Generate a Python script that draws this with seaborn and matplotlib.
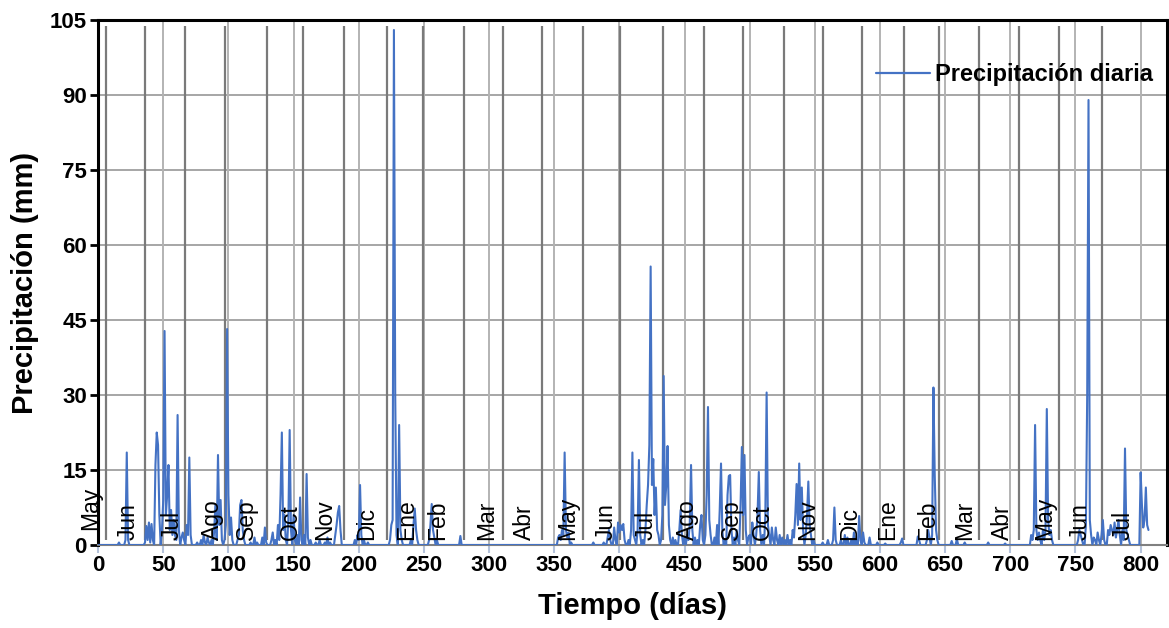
import numpy as np
import pandas as pd
import matplotlib
matplotlib.use("Agg")
import matplotlib.pyplot as plt
import seaborn as sns

# Daily rainfall record: rainy days (day index) and their depth in mm; all other days are dry
dias_lluvia = [
    16, 21, 22, 23, 36, 37, 38, 39, 40, 41, 42, 44, 45, 46, 47, 49, 50, 51, 52, 53, 54, 55, 56, 57, 58, 59,
    60, 61, 62, 64, 65, 66, 68, 69, 70, 71, 76, 79, 81, 82, 84, 85, 87, 89, 90, 91, 92, 93, 94, 95,
    97, 98, 99, 100, 101, 102, 103, 107, 108, 109, 110, 111, 112, 117, 120, 122, 126, 128, 129,
    133, 134, 136, 138, 139, 140, 141, 142, 143, 144, 146, 147, 148, 150, 151, 153, 155, 156, 158, 160, 161, 163,
    167, 170, 174, 176, 178, 182, 183, 184, 185, 186, 197, 199, 200, 201, 202, 204, 207,
    224, 225, 226, 227, 228, 229, 231, 232, 233, 240, 242, 243, 244, 245, 254, 255, 256, 257, 258, 260, 278,
    353, 354, 355, 356, 357, 358, 359, 360, 361, 363, 380, 388, 391, 392, 393, 396, 397, 399, 400, 401, 402, 403, 404,
    407, 409, 410, 411, 412, 414, 415, 416, 418, 420, 421, 422, 423, 424, 425, 426, 427, 428, 429, 430,
    432, 433, 434, 435, 436, 437, 438, 439, 441, 443, 446, 447, 448, 450, 452, 453, 454, 455, 456, 458,
    460, 462, 463, 464, 466, 467, 468, 469, 470, 473, 475, 477, 478, 479, 481, 483, 484, 485, 486, 488, 490, 491,
    493, 494, 495, 496, 497, 499, 500, 502, 503, 505, 506, 507, 508, 510, 512, 513, 514, 515,
    517, 518, 520, 521, 523, 525, 527, 529, 531, 533, 534, 535, 536, 537, 538, 539, 540, 541, 543, 544, 545, 546, 547, 549,
    556, 560, 564, 565, 566, 570, 573, 575, 578, 580, 582, 584, 585, 587, 588, 592, 598, 604, 616, 617,
    629, 630, 636, 637, 638, 640, 641, 642, 643, 644, 655, 659, 665, 683, 696,
    716, 717, 718, 719, 720, 721, 722, 723, 725, 726, 727, 728, 729, 730, 731, 732,
    752, 753, 754, 755, 758, 759, 760, 761, 762, 764, 765, 767, 768, 770, 771, 772,
    775, 776, 777, 778, 779, 780, 781, 782, 783, 784, 786, 787, 788, 789, 790, 791,
    800, 801, 802, 803, 804, 805, 806,
]
mm_lluvia = [
    0.5, 1, 18.5, 1, 0.5, 3.8, 1, 4.5, 0.5, 4.2, 1, 16, 22.5, 20, 6, 3, 9, 42.8, 6, 10, 16, 3, 7, 2, 5, 2,
    1, 26, 3, 1.5, 2.5, 1, 4, 2, 17.5, 2, 0.5, 1, 2, 0.5, 1.5, 0.5, 1, 2.5, 8, 1, 18, 4, 9, 1,
    1, 4, 43.2, 10, 2, 5.5, 1, 1, 2, 8, 9, 3, 1, 0.5, 1.5, 0.5, 1.5, 3.5, 0.5,
    1, 2.5, 1, 4, 1, 10, 22.5, 3, 6, 1, 5, 23, 3, 6, 1, 2, 9.5, 1, 2, 14.2, 1.5, 1,
    0.5, 1, 0.5, 1.5, 0.5, 2, 4, 6.5, 7.8, 3, 1, 2, 1, 12, 2, 1, 0.5,
    1, 4, 5, 103, 30, 2, 24, 3, 1, 1, 4, 7.3, 3, 1, 1, 4, 8.2, 3, 1.5, 1, 1.8,
    1.5, 2, 1, 3, 2, 18.5, 3, 1.5, 2.5, 0.5, 0.5, 0.5, 1.5, 3, 1, 3.5, 1, 4.5, 2.5, 4, 3, 4.2, 1,
    1, 3, 18.5, 2, 1, 3, 17, 2, 1, 3, 8, 12, 20, 55.7, 12, 17.2, 6, 11.5, 3, 2,
    1, 6, 33.8, 8, 12, 19.8, 4, 1, 1.5, 1, 3, 7, 2, 1.5, 2, 1, 4, 16, 3, 1.5,
    1, 4, 6, 1, 2, 10, 27.6, 5, 2, 1.5, 4, 7, 16.3, 3, 1, 10, 13.8, 14, 3, 1.5, 3, 1,
    8, 19.6, 6, 18, 3, 1.5, 2, 4.5, 2, 2, 6, 14.6, 3, 2, 6, 30.5, 4, 2,
    3.5, 1, 3.5, 1, 2, 1.5, 1, 2, 1, 3, 1.5, 6, 12.2, 4, 16.3, 5, 11.5, 3, 2, 6, 12.7, 4, 2, 1,
    0.5, 1, 1, 7.5, 1, 1, 2, 1.5, 1, 2.5, 1, 5.8, 1, 2.5, 0.5, 1.5, 0.5, 0.3, 0.5, 1.3,
    1.7, 1, 1, 3, 1.5, 2, 31.5, 14, 3, 1, 0.8, 1.2, 0.5, 0.5, 0.3,
    2, 1, 3, 24, 3, 1, 2.5, 1, 3, 1, 3, 27.2, 5, 2, 3, 1,
    1, 3, 2, 1, 4, 30, 89, 5, 2, 1.5, 1, 2.5, 1, 2, 5, 1,
    3, 2, 4, 3, 2, 4.5, 1.5, 3, 5, 2, 3, 1, 19.3, 3, 2, 1,
    14.5, 8, 3.5, 5, 11.5, 4, 3,
]
ultimo_dia = 806

# Month boundaries (days) and month names placed inside each month
limites_mes = [6, 36, 67, 97, 129.5, 157.5, 189, 222, 249, 281, 311, 341, 372, 400.5,
               433.5, 465, 495, 526, 556.5, 586, 618.5, 645.5, 676, 706.5, 737.5, 770]
pos_etiqueta = [-5.4, 22.9, 56.7, 88.1, 114.2, 147.2, 174.0, 206.3, 236.7, 260.7, 298.1, 327.4, 360.4,
                390.1, 420.8, 452.5, 486.0, 510.0, 544.5, 576.8, 605.9, 636.8, 665.0, 694.3, 726.3, 753.2, 786.4]
meses = ["May", "Jun", "Jul", "Ago", "Sep", "Oct", "Nov", "Dic", "Ene", "Feb", "Mar", "Abr", "May",
         "Jun", "Jul", "Ago", "Sep", "Oct", "Nov", "Dic", "Ene", "Feb", "Mar", "Abr", "May", "Jun", "Jul"]

y_ticks = [0, 15, 30, 45, 60, 75, 90, 105]
x_ticks = list(range(0, 801, 50))

# Build the full daily series
dias = np.arange(0, ultimo_dia + 1)
precip = np.zeros(len(dias))
precip[np.array(dias_lluvia)] = mm_lluvia
df = pd.DataFrame({"Tiempo (días)": dias, "Precipitación diaria": precip})

sns.set_theme(style="white")
plt.rcParams["font.family"] = ["Liberation Sans", "DejaVu Sans"]
plt.rcParams["text.color"] = "black"
plt.rcParams["axes.labelcolor"] = "black"
plt.rcParams["xtick.color"] = "black"
plt.rcParams["ytick.color"] = "black"

fig = plt.figure(figsize=(11.69, 6.28), dpi=100)
ax = fig.add_axes([98.1 / 1169, 83 / 628, 1068.6 / 1169, 525 / 628])

# Light grid
for yv in y_ticks[1:]:
    ax.axhline(yv, color="#a6a6a6", lw=1.4, zorder=0)
for xv in x_ticks[1:]:
    ax.axvline(xv, color="#b3b3b3", lw=1.4, zorder=0)

# Month separators
ax.vlines(limites_mes, 1, 103.8, colors="#7a7a7a", lw=1.6, zorder=1)

sns.lineplot(data=df, x="Tiempo (días)", y="Precipitación diaria", ax=ax, color="#4472C4",
             lw=1.5, estimator=None, label="Precipitación diaria", zorder=3)

for xp, nombre in zip(pos_etiqueta, meses):
    yb = 3 if xp < 0 else 1
    ax.text(xp, yb, nombre, rotation=90, ha="center", va="bottom", fontsize=16.5,
            color="black", clip_on=False, zorder=4)

ax.set_xlim(0, 820)
ax.set_ylim(0, 105)
ax.set_xticks(x_ticks)
ax.set_yticks(y_ticks)
ax.set_xticklabels([str(v) for v in x_ticks], fontsize=16, fontweight="bold", color="black")
ax.set_yticklabels([str(v) for v in y_ticks], fontsize=16, fontweight="bold", color="black")
ax.tick_params(axis="y", direction="out", length=6, width=2, color="black", pad=2, left=True)
ax.tick_params(axis="x", direction="out", length=6, width=1.5, color="#b4c2da", pad=1, bottom=True)

ax.set_xlabel("Tiempo (días)", fontsize=21, fontweight="bold", labelpad=12, color="black")
ax.set_ylabel("Precipitación (mm)", fontsize=21, fontweight="bold", labelpad=8, color="black")

for side in ["left", "top", "right"]:
    ax.spines[side].set_color("black")
    ax.spines[side].set_linewidth(2.2)
ax.spines["bottom"].set_color("#808080")
ax.spines["bottom"].set_linewidth(1.5)

leg = ax.legend(loc="upper right", bbox_to_anchor=(1.0, 0.945), frameon=False,
                prop={"size": 17, "weight": "bold"}, handlelength=2.3, handletextpad=0.2,
                borderaxespad=0.2)
for t in leg.get_texts():
    t.set_color("black")
leg.get_lines()[0].set_linewidth(1.6)

fig.savefig("out.png", dpi=100)
